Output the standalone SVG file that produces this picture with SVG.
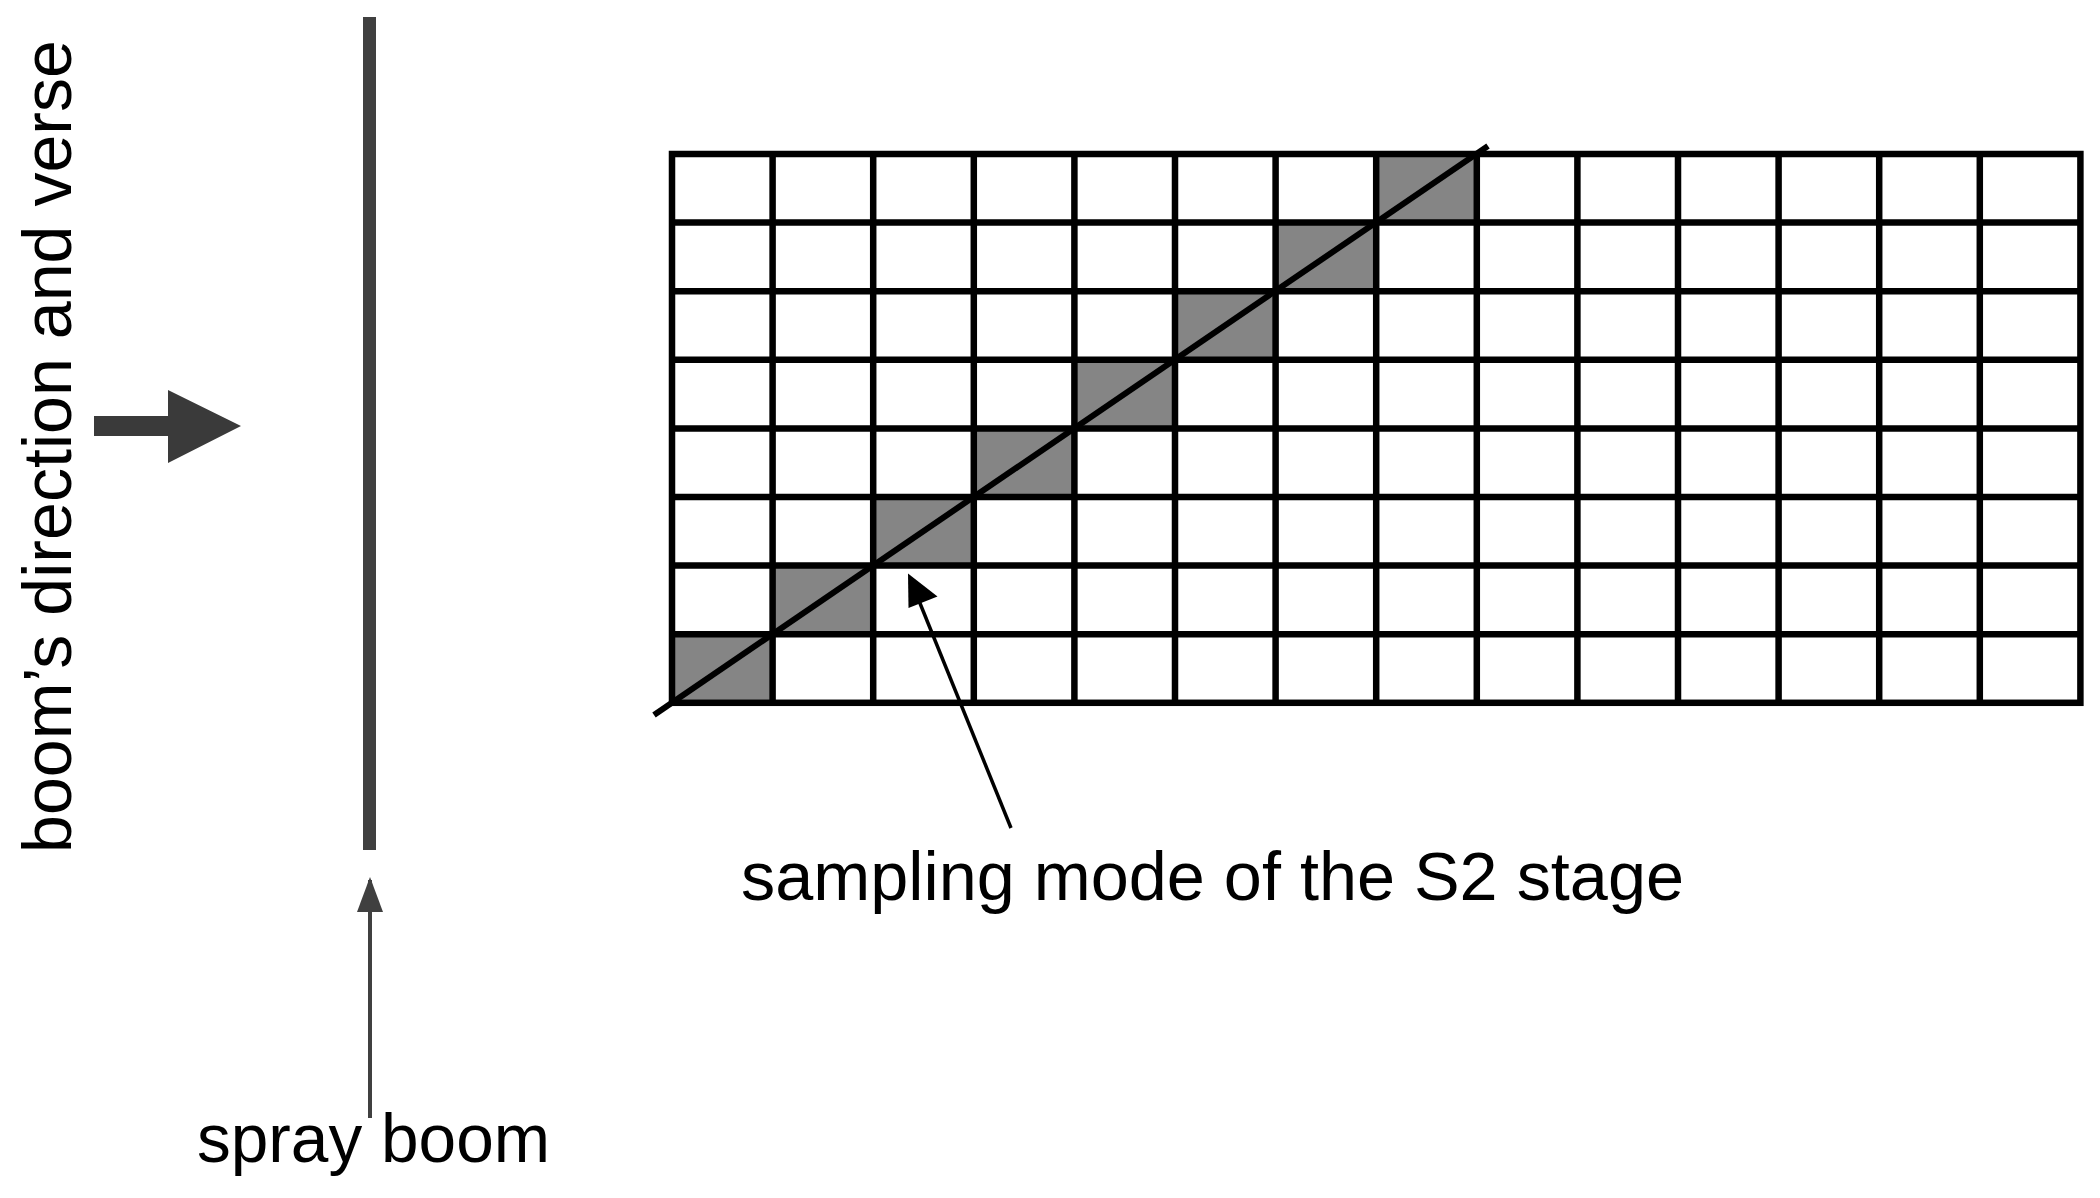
<svg xmlns="http://www.w3.org/2000/svg" width="2100" height="1198" viewBox="0 0 2100 1198">
<style>
.lbl{font-family:"Liberation Sans",Arial,sans-serif;font-size:69px;fill:#000}
.cell{fill:#858585}
.grid{fill:none;stroke:#000;stroke-width:6.5}
</style>
<rect width="2100" height="1198" fill="#fff"/>
<g id="direction-label">
<text class="lbl" transform="translate(71,853) rotate(-90)" textLength="813" lengthAdjust="spacingAndGlyphs">boom’s direction and verse</text>
</g>
<g id="direction-arrow">
<path d="M94,416 L168,416 L168,390 L241,426 L168,463 L168,436 L94,436 z" fill="#3a3a3a"/>
</g>
<g id="spray-boom">
<rect x="363" y="17" width="13" height="833" fill="#404040"/>
</g>
<g id="grid">
<g class="cells">
<rect class="cell" x="672" y="634.2" width="100.6" height="68.6"/>
<rect class="cell" x="772.6" y="565.6" width="100.6" height="68.6"/>
<rect class="cell" x="873.2" y="497" width="100.6" height="68.6"/>
<rect class="cell" x="973.8" y="428.4" width="100.6" height="68.6"/>
<rect class="cell" x="1074.4" y="359.8" width="100.6" height="68.6"/>
<rect class="cell" x="1175" y="291.2" width="100.6" height="68.6"/>
<rect class="cell" x="1275.6" y="222.6" width="100.6" height="68.6"/>
<rect class="cell" x="1376.2" y="154" width="100.6" height="68.6"/>
</g>
<path class="grid" d="M772.6,154V702.8 M873.2,154V702.8 M973.8,154V702.8 M1074.4,154V702.8 M1175,154V702.8 M1275.6,154V702.8 M1376.2,154V702.8 M1476.8,154V702.8 M1577.4,154V702.8 M1678,154V702.8 M1778.6,154V702.8 M1879.2,154V702.8 M1979.8,154V702.8 M672,222.6H2080.4 M672,291.2H2080.4 M672,359.8H2080.4 M672,428.4H2080.4 M672,497H2080.4 M672,565.6H2080.4 M672,634.2H2080.4"/>
<rect class="grid" x="672" y="154" width="1408.4" height="548.8" stroke-width="7"/>
<line x1="654" y1="715" x2="1488" y2="146" stroke="#000" stroke-width="6"/>
</g>
<g id="connectors">
<line x1="370" y1="1118" x2="370" y2="880" stroke="#404040" stroke-width="4"/>
<path d="M370,877 L383,912 L357,912 z" fill="#404040"/>
<line x1="1011" y1="828" x2="913" y2="586" stroke="#000" stroke-width="3.5"/>
<path d="M908,573.5 L937.5,596.5 L908.5,608 z" fill="#000"/>
</g>
<g id="sampling-label">
<text class="lbl" x="741" y="900" textLength="943" lengthAdjust="spacingAndGlyphs">sampling mode of the S2 stage</text>
</g>
<g id="boom-label">
<text class="lbl" x="197" y="1162" textLength="353" lengthAdjust="spacingAndGlyphs">spray boom</text>
</g>
</svg>
